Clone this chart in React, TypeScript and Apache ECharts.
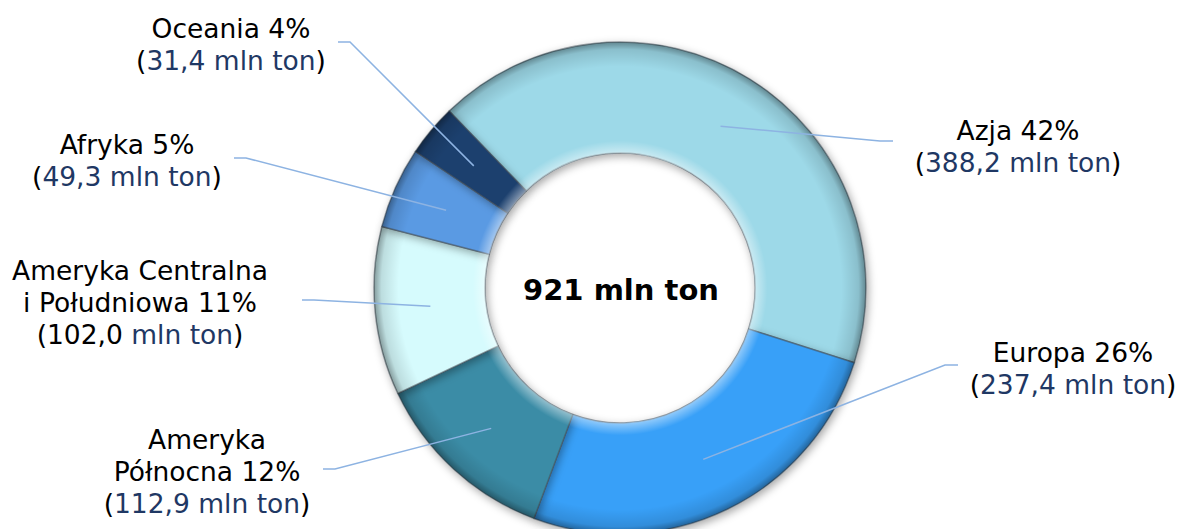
import React, { useEffect, useRef } from "react";
import * as echarts from "echarts";

// ---- data ----
const regionNames = [
  "Azja",
  "Europa",
  "Ameryka\nPółnocna",
  "Ameryka Centralna\ni Południowa",
  "Afryka",
  "Oceania",
];
const valuesMlnTon = [388.2, 237.4, 112.9, 102.0, 49.3, 31.4];
const shownPercents = [42, 26, 12, 11, 5, 4];
const unitLabel = "mln ton";

// ---- styles / layout (kept apart from the data) ----
const sliceColors = ["#9DD9E8", "#38A0F8", "#3A8CA6", "#D6FBFD", "#5A9AE3", "#1C3F6E"];
const blackNumberIndex = 3; // in the reference, this label's number is black
const CENTER: [number, number] = [620, 288];
const R_IN = 135;
const R_OUT = 246;
const START_ANGLE = 134;
const FONT = '"DejaVu Sans", Verdana, sans-serif';
const labelPlacement = [
  { x: 1018, y: 146, elbow: [880, 141], end: [893, 141] },
  { x: 1073, y: 368, elbow: [945, 365], end: [958, 365] },
  { x: 207, y: 471, elbow: [335, 469], end: [323, 469] },
  { x: 140, y: 302, elbow: [314, 300], end: [302, 300] },
  { x: 127, y: 160, elbow: [246, 158], end: [234, 158] },
  { x: 231, y: 44, elbow: [350, 42], end: [338, 42] },
];

const fmt = (v: number) => v.toFixed(1).replace(".", ",");

export default function App() {
  const ref = useRef<HTMLDivElement>(null);
  useEffect(() => {
    if (!ref.current) return;
    const chart = echarts.init(ref.current, undefined, { renderer: "svg" });
    const total = valuesMlnTon.reduce((a, b) => a + b, 0);
    let cum = 0;
    const midAngles = valuesMlnTon.map((v) => {
      const m = cum + v / 2;
      cum += v;
      return (90 - START_ANGLE) + (m / total) * 360;
    });
    const rMid = (R_IN + R_OUT) / 2;

    const colored = regionNames.map((n, i) => ({
      name: n,
      value: valuesMlnTon[i],
      itemStyle: { color: sliceColors[i] },
    }));
    const plain = regionNames.map((n, i) => ({ name: n, value: valuesMlnTon[i] }));

    const bevel = new echarts.graphic.RadialGradient(
      CENTER[0],
      CENTER[1],
      R_OUT,
      [
        { offset: 0, color: "rgba(255,255,255,0)" },
        { offset: R_IN / R_OUT, color: "rgba(255,255,255,0.45)" },
        { offset: R_IN / R_OUT + 0.05, color: "rgba(255,255,255,0)" },
        { offset: 0.9, color: "rgba(0,0,0,0)" },
        { offset: 0.97, color: "rgba(0,0,0,0.12)" },
        { offset: 1, color: "rgba(0,0,0,0.38)" },
      ],
      true
    );

    const common = {
      type: "pie",
      center: CENTER,
      radius: [R_IN, R_OUT],
      startAngle: START_ANGLE,
      clockwise: true,
      avoidLabelOverlap: false,
      emphasis: { disabled: true },
    };

    chart.setOption({
      animation: false,
      backgroundColor: "#ffffff",
      graphic: [
        {
          type: "text",
          x: CENTER[0] + 1,
          y: CENTER[1] + 2,
          style: {
            text: `${Math.round(total)} ${unitLabel}`,
            fontSize: 29,
            fontWeight: "bold",
            fontFamily: FONT,
            fill: "#000000",
            align: "center",
            verticalAlign: "middle",
          },
          z: 100,
        },
      ],
      series: [
        {
          ...common,
          data: colored,
          itemStyle: {
            borderColor: "rgba(70,80,90,0.55)",
            borderWidth: 1.5,
            shadowBlur: 8,
            shadowColor: "rgba(0,0,0,0.35)",
            shadowOffsetX: 2,
            shadowOffsetY: 3,
          },
          label: { show: false },
          labelLine: { show: false },
          z: 2,
        },
        {
          ...common,
          silent: true,
          data: plain,
          itemStyle: { color: bevel, borderWidth: 0 },
          label: { show: false },
          labelLine: { show: false },
          z: 3,
        },
        {
          ...common,
          silent: true,
          data: plain,
          itemStyle: { color: "rgba(0,0,0,0)", borderWidth: 0 },
          z: 4,
          label: {
            show: true,
            position: "outside",
            fontFamily: FONT,
            fontSize: 26.5,
            lineHeight: 32,
            align: "center",
            formatter: (p: any) => {
              const i = p.dataIndex;
              const nameLines = `${regionNames[i]} ${shownPercents[i]}%`
                .split("\n")
                .map((l) => `{n|${l}}`)
                .join("\n");
              const valueLine =
                i === blackNumberIndex
                  ? `{n|(${fmt(valuesMlnTon[i])} }{v|${unitLabel}}{n|)}`
                  : `{n|(}{v|${fmt(valuesMlnTon[i])} ${unitLabel}}{n|)}`;
              return `${nameLines}\n${valueLine}`;
            },
            rich: {
              n: { color: "#000000", fontFamily: FONT, fontSize: 26.5, lineHeight: 32 },
              v: { color: "#1F3864", fontFamily: FONT, fontSize: 26.5, lineHeight: 32 },
            },
          },
          labelLine: {
            show: true,
            lineStyle: { color: "#8DB3E2", width: 1.5 },
          },
          labelLayout: (params: any) => {
            const i = params.dataIndex;
            const pl = labelPlacement[i];
            const th = (midAngles[i] * Math.PI) / 180;
            const ax = CENTER[0] + rMid * Math.sin(th);
            const ay = CENTER[1] - rMid * Math.cos(th);
            return {
              x: pl.x,
              y: pl.y,
              align: "center",
              verticalAlign: "middle",
              labelLinePoints: [[ax, ay], pl.elbow, pl.end],
            };
          },
        },
      ],
    });
    return () => chart.dispose();
  }, []);
  return (
    <div
      ref={ref}
      style={{ position: "fixed", left: 0, top: 0, width: 1182, height: 529 }}
    />
  );
}
